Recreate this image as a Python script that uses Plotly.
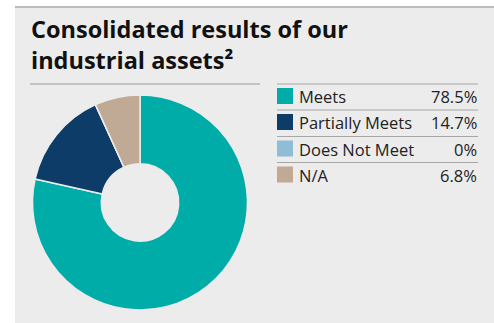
import plotly.graph_objects as go

# Consolidated assessment results
categories = ["Meets", "Partially Meets", "Does Not Meet", "N/A"]
shares = [78.5, 14.7, 0, 6.8]
colors = ["#00aca7", "#0d3c68", "#8fbdd5", "#c0a995"]

title_lines = ["Consolidated results of our", "industrial assets²"]

W, H = 494, 323
FONT = "Open Sans"


def px(x):
    return x / W


def py(y):
    return 1 - y / H


fig = go.Figure()

fig.add_trace(go.Pie(
    labels=categories,
    values=shares,
    hole=0.36,
    sort=False,
    direction="clockwise",
    rotation=0,
    textinfo="none",
    hoverinfo="label+percent",
    marker=dict(colors=colors, line=dict(color="#ececec", width=1.5)),
    domain=dict(x=[px(32.5), px(247.5)], y=[py(310), py(95)]),
    showlegend=False,
))

shapes = [
    # panel background and its top rule
    dict(type="rect", xref="paper", yref="paper", x0=px(15), x1=1, y0=0, y1=py(7),
         fillcolor="#ececec", line=dict(width=0), layer="below"),
    dict(type="line", xref="paper", yref="paper", x0=px(15), x1=1, y0=py(7), y1=py(7),
         line=dict(color="#bdbdbd", width=2)),
    # rule under the title, above the donut
    dict(type="line", xref="paper", yref="paper", x0=px(30), x1=px(260), y0=py(84), y1=py(84),
         line=dict(color="#9a9a9a", width=1)),
]

annotations = [
    dict(text="<br>".join(title_lines), xref="paper", yref="paper",
         x=px(29), y=py(44), xanchor="left", yanchor="middle", align="left",
         showarrow=False,
         font=dict(family=FONT, size=23.5, color="#111111", weight=700)),
]

# legend table: swatch, label, value, with a rule above each row
row_top = [84, 110, 136.5, 162.5]
for i, (cat, val, col) in enumerate(zip(categories, shares, colors)):
    top = row_top[i]
    shapes.append(dict(type="line", xref="paper", yref="paper", x0=px(277), x1=px(478),
                       y0=py(top), y1=py(top), line=dict(color="#a6a6a6", width=1)))
    sw_top = top + 4
    shapes.append(dict(type="rect", xref="paper", yref="paper", x0=px(277), x1=px(293),
                       y0=py(sw_top + 16), y1=py(sw_top), fillcolor=col, line=dict(width=0)))
    yc = py(sw_top + 8.5)
    annotations.append(dict(text=cat, xref="paper", yref="paper", x=px(297), y=yc,
                            xanchor="left", yanchor="middle", showarrow=False,
                            font=dict(family=FONT, size=16.5, color="#222222")))
    annotations.append(dict(text=f"{val:g}%", xref="paper", yref="paper", x=px(479), y=yc,
                            xanchor="right", yanchor="middle", showarrow=False,
                            font=dict(family=FONT, size=16.5, color="#222222")))

fig.update_layout(
    width=W, height=H,
    margin=dict(l=0, r=0, t=0, b=0),
    paper_bgcolor="white",
    plot_bgcolor="white",
    shapes=shapes,
    annotations=annotations,
)

fig.write_html("out.html", config={"displayModeBar": False})
